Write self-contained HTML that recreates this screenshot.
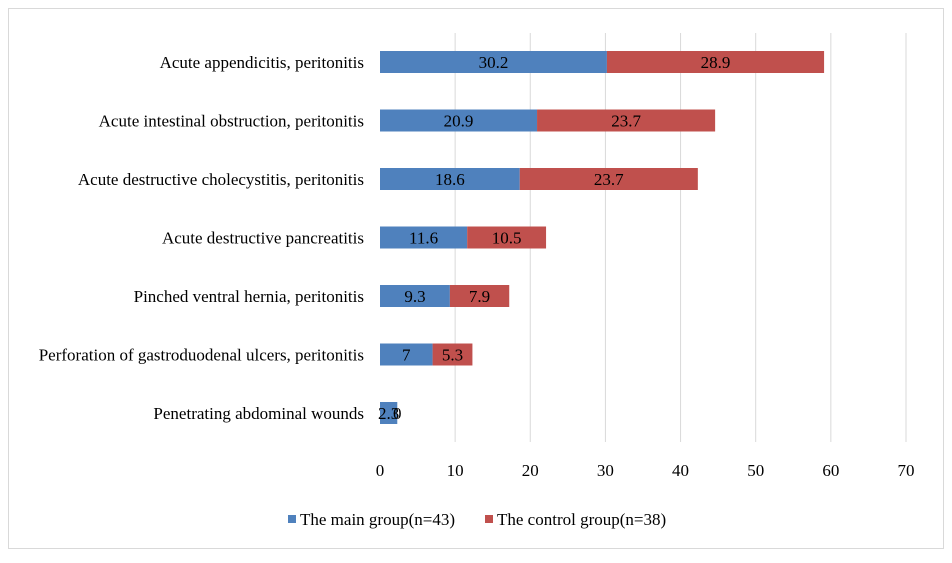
<!DOCTYPE html>
<html><head><meta charset="utf-8"><style>
body{margin:0;background:#fff;}
svg text{font-family:"Liberation Serif",serif;font-size:17px;fill:#000;}
</style></head><body>
<svg width="952" height="558">
<rect x="8.5" y="8.5" width="935" height="540" fill="#fff" stroke="#d9d9d9"/>
<g id="grid"></g><g id="bars"></g><g id="labels"></g><g id="ticks"></g>
<g>
<rect x="288" y="515" width="8" height="8" fill="#4f81bd"/>
<text x="300" y="525">The main group(n=43)</text>
<rect x="485" y="515" width="8" height="8" fill="#c0504d"/>
<text x="497" y="525">The control group(n=38)</text>
</g>
</svg>
<script>
const categories=["Acute appendicitis, peritonitis","Acute intestinal obstruction, peritonitis","Acute destructive cholecystitis, peritonitis","Acute destructive pancreatitis","Pinched ventral hernia, peritonitis","Perforation of gastroduodenal ulcers, peritonitis","Penetrating abdominal wounds"];
const mainVals=[30.2,20.9,18.6,11.6,9.3,7,2.3];
const controlVals=[28.9,23.7,23.7,10.5,7.9,5.3,0];
const tickVals=[0,10,20,30,40,50,60,70];
const NS="http://www.w3.org/2000/svg";
const x=v=>380+v*7.514;
const y=i=>62+i*58.5;
function mk(t,a,p){const e=document.createElementNS(NS,t);for(const k in a)e.setAttribute(k,a[k]);document.getElementById(p).appendChild(e);return e;}
tickVals.forEach(v=>{
 if(v>0){const g=mk('line',{x1:x(v),x2:x(v),y1:33,y2:442,stroke:'#d9d9d9'},'grid');
 
 }
 const t=mk('text',{x:x(v),y:476,'text-anchor':'middle'},'ticks');t.textContent=v;
 
 
});
categories.forEach((c,i)=>{
 const cy=y(i);
 const l=mk('text',{x:364,y:cy+6,'text-anchor':'end'},'labels');l.textContent=c;
 
 
 const b1=mk('rect',{x:x(0),y:cy-11,width:x(mainVals[i])-x(0),height:22,fill:'#4f81bd'},'bars');
 
 
 const b2=mk('rect',{x:x(mainVals[i]),y:cy-11,width:x(mainVals[i]+controlVals[i])-x(mainVals[i]),height:22,fill:'#c0504d'},'bars');
 
 
 const t1=mk('text',{x:x(mainVals[i]/2),y:cy+6,'text-anchor':'middle'},'bars');t1.textContent=mainVals[i];
 
 
 const t2=mk('text',{x:x(mainVals[i]+controlVals[i]/2),y:cy+6,'text-anchor':'middle'},'bars');t2.textContent=controlVals[i];
 
 
});
</script>
</body></html>
